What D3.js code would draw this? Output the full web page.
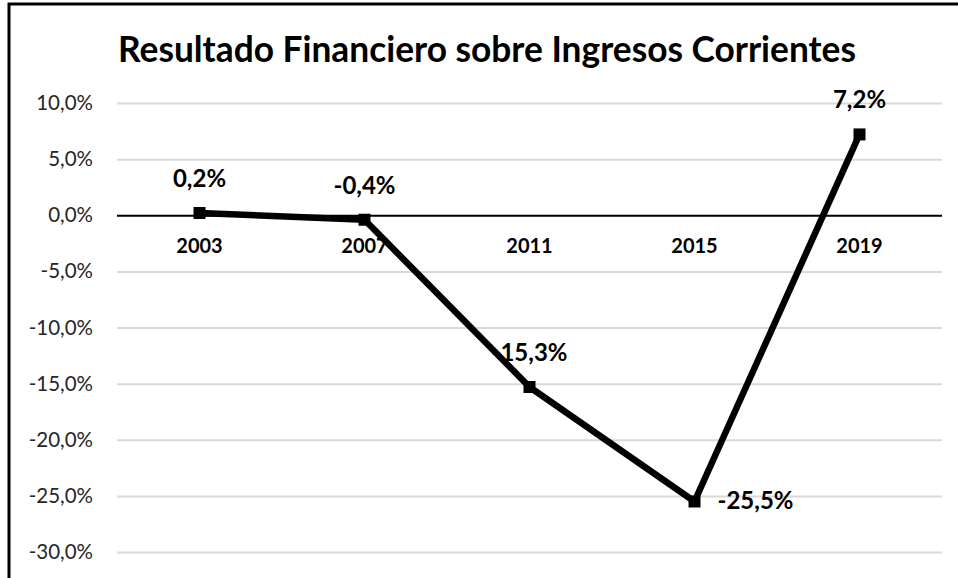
<!DOCTYPE html>
<html>
<head>
<meta charset="utf-8">
<script src="https://cdn.jsdelivr.net/npm/d3@7"></script>
<style>
  body { margin: 0; background: #fff; }
  svg { display: block; font-family: Lato, "Open Sans", sans-serif; }
</style>
</head>
<body>
<svg id="chart" width="958" height="578"></svg>
<script>
// data
const years = ['2003', '2007', '2011', '2015', '2019'];
const values = [0.2, -0.4, -15.3, -25.5, 7.2];
const yTicks = [10, 5, 0, -5, -10, -15, -20, -25, -30];
// where each value label sits relative to its point
const labelPos = ['above', 'above', 'above', 'right', 'above'];

const svg = d3.select('#chart');
const margin = { top: 103, right: 16, bottom: 26, left: 117 };
const width = 958 - margin.left - margin.right;

// Excel-style: comma decimal, plain hyphen
const fmt = v => d3.format('.1f')(v).replace('.', ',').replace('\u2212', '-') + '%';

// frame (only left + top visible in the crop)
svg.append('path')
  .attr('d', 'M9,578 V4 H958')
  .attr('fill', 'none')
  .attr('stroke', '#000')
  .attr('stroke-width', 3);

// title
const title = svg.append('text')
  .attr('x', 487)
  .attr('y', 62)
  .attr('text-anchor', 'middle')
  .attr('font-weight', 'bold')
  .attr('font-size', 30)
  .attr('fill', '#000')
  .text('Resultado Financiero sobre Ingresos Corrientes');
// scale font so the title spans the same width as the original
const tw = title.node().getComputedTextLength();
title.attr('font-size', 30 * 738 / tw);

const g = svg.append('g').attr('transform', `translate(${margin.left},${margin.top})`);

const x = d3.scaleBand().domain(years).range([0, width]);
const y = d3.scaleLinear().domain([-30, 10]).range([449, 0]);

// gridlines + tick labels
const yAxis = g.append('g')
  .call(d3.axisLeft(y).tickValues(yTicks).tickSize(-width).tickFormat(fmt).tickPadding(24));
yAxis.select('.domain').remove();
yAxis.selectAll('.tick line')
  .attr('stroke', d => d === 0 ? '#000' : '#d9d9d9')
  .attr('stroke-width', 2);
yAxis.selectAll('.tick text')
  .attr('font-size', 20.5)
  .attr('fill', '#262626')
  .style('font-family', 'Lato, "Open Sans", sans-serif');

// category labels under the zero line
const xAxis = g.append('g')
  .attr('transform', `translate(0,${y(0)})`)
  .call(d3.axisBottom(x).tickSize(0).tickPadding(24));
xAxis.select('.domain').remove();
xAxis.selectAll('.tick text')
  .attr('font-size', 20)
  .attr('font-weight', 'bold')
  .attr('fill', '#000')
  .style('font-family', 'Lato, "Open Sans", sans-serif');

const cx = d => x(d) + x.bandwidth() / 2;

// line
g.append('path')
  .datum(values)
  .attr('fill', 'none')
  .attr('stroke', '#000')
  .attr('stroke-width', 6.5)
  .attr('stroke-linejoin', 'round')
  .attr('d', d3.line().x((d, i) => cx(years[i])).y(d => y(d)));

// markers
g.selectAll('.marker')
  .data(values)
  .enter().append('rect')
  .attr('class', 'marker')
  .attr('x', (d, i) => cx(years[i]) - 6)
  .attr('y', d => y(d) - 6)
  .attr('width', 12)
  .attr('height', 12)
  .attr('fill', '#000');

// value labels
g.selectAll('.vlabel')
  .data(values)
  .enter().append('text')
  .attr('class', 'vlabel')
  .attr('x', (d, i) => labelPos[i] === 'right' ? cx(years[i]) + 23 : cx(years[i]))
  .attr('y', (d, i) => labelPos[i] === 'right' ? y(d) + 8 : y(d) - 26)
  .attr('text-anchor', (d, i) => labelPos[i] === 'right' ? 'start' : 'middle')
  .attr('font-size', 24)
  .attr('font-weight', 'bold')
  .attr('fill', '#000')
  .text(d => fmt(d));
</script>
</body>
</html>
